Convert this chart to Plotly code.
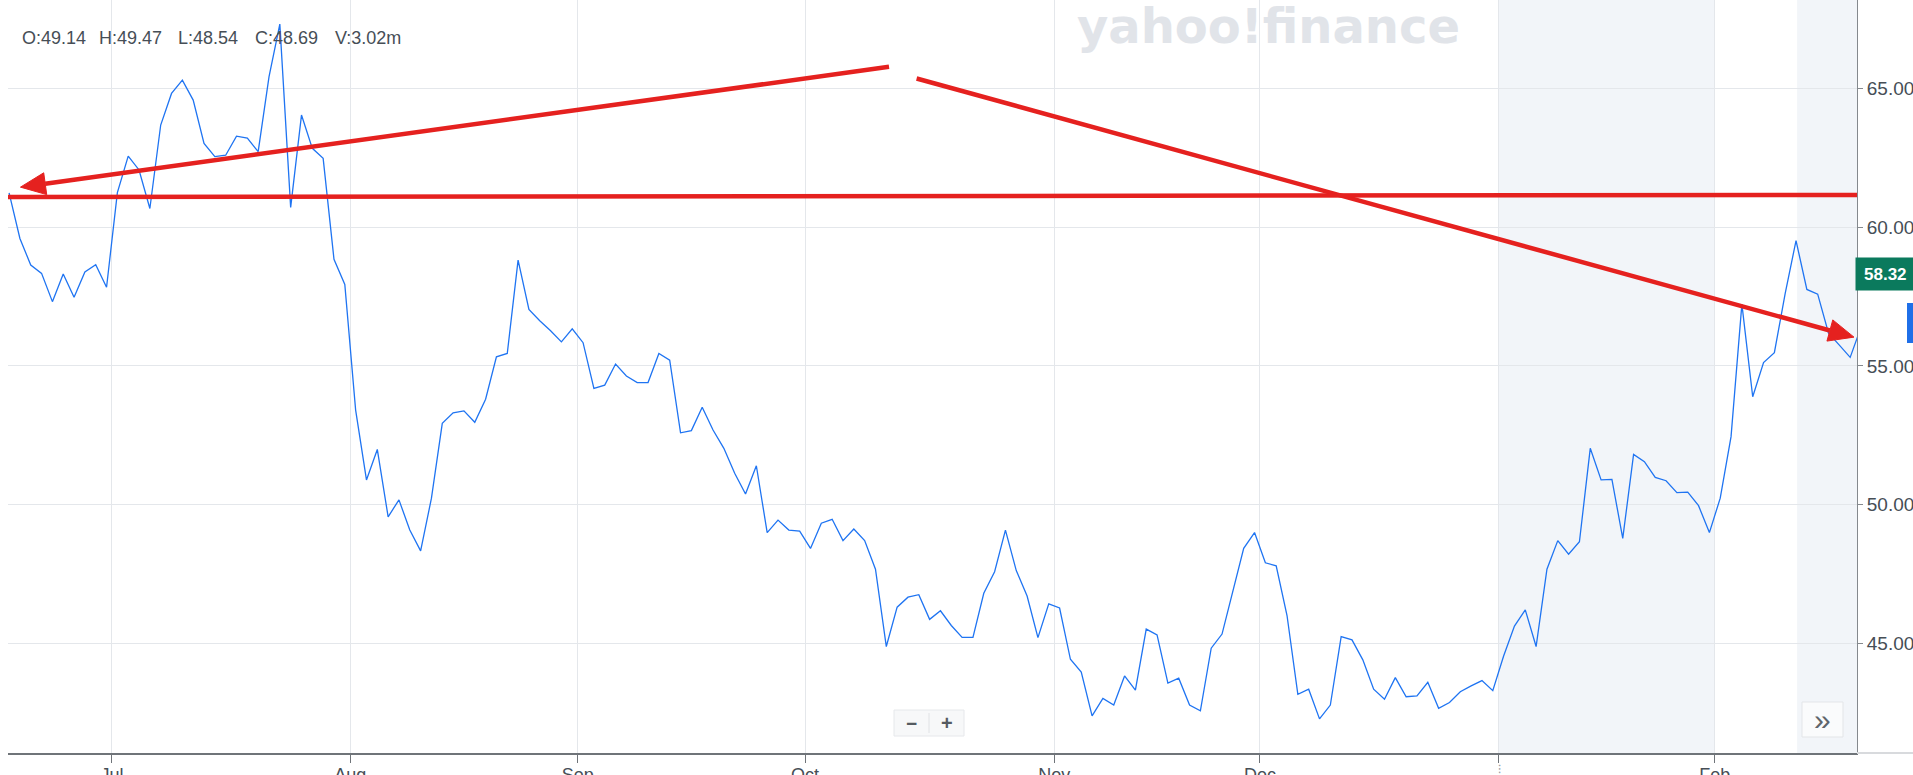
import math
import plotly.graph_objects as go

# ---------------- data ----------------
PRICES = [
    61.24, 59.60, 58.64, 58.34, 57.32, 58.32, 57.48, 58.39, 58.65, 57.84,
    61.25, 62.57, 62.07, 60.68, 63.69, 64.83, 65.31, 64.59, 63.03, 62.55,
    62.60, 63.29, 63.22, 62.73, 65.43, 67.33, 60.72, 64.05, 62.85, 62.49,
    58.85, 57.94, 53.41, 50.89, 51.99, 49.56, 50.17, 49.08, 48.33, 50.23,
    52.93, 53.31, 53.38, 52.97, 53.80, 55.33, 55.45, 58.82, 57.04, 56.63,
    56.27, 55.87, 56.34, 55.84, 54.19, 54.31, 55.07, 54.64, 54.40, 54.40,
    55.45, 55.21, 52.59, 52.67, 53.51, 52.69, 52.03, 51.13, 50.38, 51.40,
    48.99, 49.44, 49.08, 49.04, 48.42, 49.33, 49.47, 48.70, 49.12, 48.70,
    47.67, 44.88, 46.30, 46.66, 46.75, 45.86, 46.17, 45.64, 45.21, 45.21,
    46.80, 47.58, 49.08, 47.62, 46.70, 45.20, 46.42, 46.27, 44.42, 43.96,
    42.38, 43.01, 42.77, 43.82, 43.31, 45.51, 45.30, 43.56, 43.74, 42.77,
    42.56, 44.82, 45.33, 46.92, 48.42, 48.99, 47.90, 47.79, 46.00, 43.16,
    43.34, 42.27, 42.77, 45.24, 45.12, 44.40, 43.34, 42.98, 43.76, 43.07,
    43.10, 43.59, 42.65, 42.86, 43.25, 43.46, 43.65, 43.29, 44.54, 45.62,
    46.20, 44.88, 47.67, 48.70, 48.21, 48.66, 52.03, 50.89, 50.91, 48.78,
    51.81, 51.55, 50.98, 50.86, 50.43, 50.45, 49.96, 48.99, 50.23, 52.45,
    57.23, 53.89, 55.12, 55.48, 57.62, 59.52, 57.76, 57.59, 56.18, 55.75,
    55.31, 56.40,
]
TICK_POS = [9.5, 31.5, 52.5, 73.5, 96.5, 115.5, 137.5, 157.5]
TICK_TEXT = ["Jul", "Aug", "Sep", "Oct", "Nov", "Dec", "", "Feb"]
Y_TICKS = [45, 50, 55, 60, 65]
OHLC_LABELS = ["O:49.14", "H:49.47", "L:48.54", "C:48.69", "V:3.02m"]
LAST_PRICE = 58.32
SHADED_SPANS = [(137.5, 157.5), (165.1, 171.0)]
# hand-drawn trend lines, as (index, price) pairs
TREND_UP = ((81.25, 65.79), (1.05, 61.45))      # arrow pointing left
TREND_FLAT = ((-0.66, 61.09), (170.63, 61.17))
TREND_DOWN = ((83.8, 65.37), (170.35, 56.04))   # arrow pointing right

# ---------------- geometry ----------------
W, H = 1913, 775
ML, MR, MT, MB = 8, 56, 0, 22
X_RANGE = [-0.10, 170.63]
Y_RANGE = [41.04, 68.20]
PW, PH = W - ML - MR, H - MT - MB

RED = "#e5211f"
BLUE = "#1f74f2"
GRID = "#e4e7eb"
TXT = "#464e56"


def to_px(x, y):
    px = ML + (x - X_RANGE[0]) / (X_RANGE[1] - X_RANGE[0]) * PW
    py = MT + (Y_RANGE[1] - y) / (Y_RANGE[1] - Y_RANGE[0]) * PH
    return px, py


def to_data(px, py):
    x = X_RANGE[0] + (px - ML) / PW * (X_RANGE[1] - X_RANGE[0])
    y = Y_RANGE[1] - (py - MT) / PH * (Y_RANGE[1] - Y_RANGE[0])
    return x, y


def pxp(px):
    return (px - ML) / PW


def pyp(py):
    return 1 - (py - MT) / PH


fig = go.Figure()
fig.add_trace(go.Scatter(
    x=list(range(len(PRICES))), y=PRICES, mode="lines",
    line=dict(color=BLUE, width=1.3), hoverinfo="skip",
))

shapes = []
for a, b in SHADED_SPANS:
    shapes.append(dict(type="rect", xref="x", yref="paper", x0=a, x1=b, y0=0, y1=1,
                       fillcolor="#f2f5f9", line=dict(width=0), layer="below"))


def arrow(tail, tip, length=25, half=11, width=4.5):
    tx, ty = to_px(*tail)
    hx, hy = to_px(*tip)
    dx, dy = hx - tx, hy - ty
    L = math.hypot(dx, dy)
    ux, uy = dx / L, dy / L
    bx, by = hx - ux * length, hy - uy * length
    c1 = (bx - uy * half, by + ux * half)
    c2 = (bx + uy * half, by - ux * half)
    b_d = to_data(bx, by)
    out = [dict(type="line", xref="x", yref="y", x0=tail[0], y0=tail[1],
                x1=b_d[0], y1=b_d[1], line=dict(color=RED, width=width), layer="above")]
    pts = [to_data(hx, hy), to_data(*c1), to_data(*c2)]
    path = "M {},{} L {},{} L {},{} Z".format(*[v for p in pts for v in p])
    out.append(dict(type="path", xref="x", yref="y", path=path,
                    fillcolor=RED, line=dict(color=RED, width=1), layer="above"))
    return out


shapes += arrow(*TREND_UP)
shapes += arrow(*TREND_DOWN)
shapes.append(dict(type="line", xref="x", yref="y",
                   x0=TREND_FLAT[0][0], y0=TREND_FLAT[0][1],
                   x1=TREND_FLAT[1][0], y1=TREND_FLAT[1][1],
                   line=dict(color=RED, width=4.5), layer="above"))

# zoom buttons and scroll button
shapes.append(dict(type="rect", xref="paper", yref="paper",
                   x0=pxp(894), x1=pxp(964), y0=pyp(736), y1=pyp(710),
                   fillcolor="#f7f8f9", line=dict(color="#e6e8eb", width=1), layer="above"))
shapes.append(dict(type="line", xref="paper", yref="paper",
                   x0=pxp(929), x1=pxp(929), y0=pyp(733), y1=pyp(713),
                   line=dict(color="#e0e2e5", width=1), layer="above"))
shapes.append(dict(type="rect", xref="paper", yref="paper",
                   x0=pxp(1802), x1=pxp(1843), y0=pyp(737), y1=pyp(702),
                   fillcolor="#fafbfc", line=dict(color="#e3e5e8", width=1), layer="above"))
# partially visible blue tab at right edge
shapes.append(dict(type="rect", xref="paper", yref="paper",
                   x0=pxp(1907), x1=pxp(1930), y0=pyp(343), y1=pyp(303),
                   fillcolor="#1f6fe8", line=dict(width=0), layer="above"))
# axis line continuing past y-axis
shapes.append(dict(type="line", xref="paper", yref="paper",
                   x0=1, x1=pxp(1913), y0=0, y1=0,
                   line=dict(color="#d8dadd", width=2), layer="above"))

annotations = []
annotations.append(dict(
    text="<b>yahoo!finance</b>", xref="paper", yref="paper",
    x=pxp(1268.5), y=pyp(26.5), xanchor="center", yanchor="middle",
    showarrow=False, font=dict(family="DejaVu Sans", size=48, color="#e1e4e9"),
))
for lbl, px in zip(OHLC_LABELS, [21, 98, 177, 254, 334]):
    annotations.append(dict(
        text=lbl, xref="paper", yref="paper", x=pxp(px), y=pyp(38),
        xanchor="left", yanchor="middle", showarrow=False, borderpad=0,
        font=dict(family="Liberation Sans, Arial", size=18, color=TXT),
    ))
annotations.append(dict(
    text="<b>{:.2f}</b>".format(LAST_PRICE), xref="paper", yref="y",
    x=pxp(1855), y=LAST_PRICE, xanchor="left", yanchor="middle",
    showarrow=False, bgcolor="#0b7a5d", borderpad=8, width=60, height=16, align="left",
    font=dict(family="Liberation Sans, Arial", size=17, color="white"),
))
annotations.append(dict(text="<b>−</b>", xref="paper", yref="paper", x=pxp(911), y=pyp(723),
                        xanchor="center", yanchor="middle",
                        showarrow=False, font=dict(size=19, color="#555b61")))
annotations.append(dict(text="<b>+</b>", xref="paper", yref="paper", x=pxp(947), y=pyp(723),
                        xanchor="center", yanchor="middle",
                        showarrow=False, font=dict(size=20, color="#555b61")))
annotations.append(dict(text="»", xref="paper", yref="paper", x=pxp(1822), y=pyp(719),
                        xanchor="center", yanchor="middle",
                        showarrow=False, font=dict(size=30, color="#5f656b")))
annotations.append(dict(text="⁝", xref="paper", yref="paper", x=pxp(1499), y=pyp(769),
                        xanchor="center", yanchor="middle",
                        showarrow=False, font=dict(size=12, color="#9aa0a6")))

fig.update_layout(
    width=W, height=H,
    margin=dict(l=ML, r=MR, t=MT, b=MB, pad=0),
    paper_bgcolor="white", plot_bgcolor="white",
    showlegend=False,
    font=dict(family="Liberation Sans, Arial, sans-serif", color=TXT),
    shapes=shapes, annotations=annotations,
    hovermode=False,
    xaxis=dict(
        range=X_RANGE, tickmode="array", tickvals=TICK_POS, ticktext=TICK_TEXT,
        showgrid=True, gridcolor=GRID, gridwidth=1, zeroline=False,
        showline=True, linecolor="#6f7479", linewidth=2,
        ticks="outside", ticklen=8, tickcolor="#6f7479", tickwidth=1,
        ticklabelstandoff=-4,
        tickfont=dict(size=18, color=TXT), automargin=False, fixedrange=True,
    ),
    yaxis=dict(
        side="right", range=Y_RANGE, tickmode="array", tickvals=Y_TICKS,
        tickformat=".2f", showgrid=True, gridcolor=GRID, gridwidth=1, zeroline=False,
        showline=True, linecolor="#85898e", linewidth=1,
        ticks="outside", ticklen=5, tickcolor="#85898e",
        tickfont=dict(size=19, color=TXT), automargin=False, fixedrange=True,
    ),
)

fig.write_html("out.html", config={"displayModeBar": False},
               post_script="document.body.style.margin='0px';document.body.style.overflow='hidden';")
